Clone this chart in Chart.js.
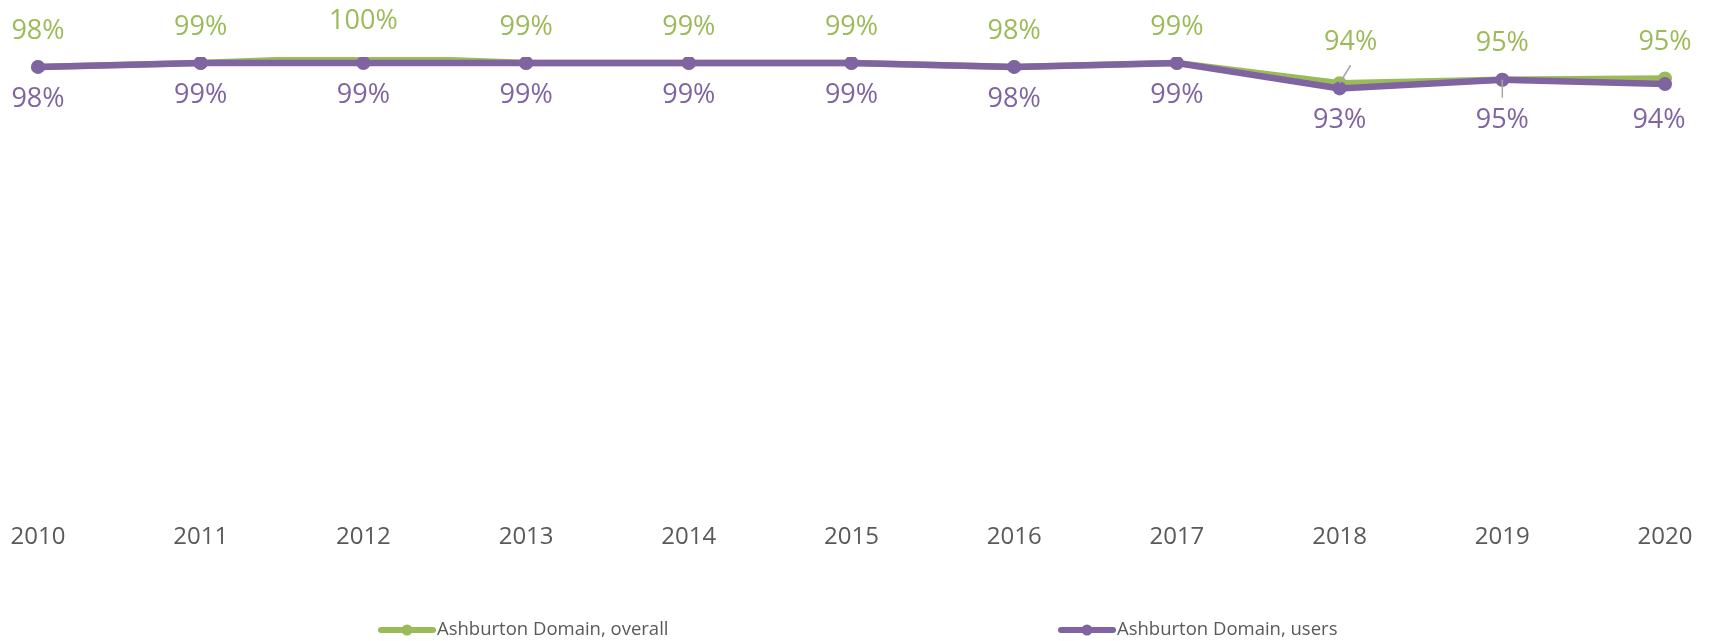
<!DOCTYPE html>
<html>
<head>
<meta charset="utf-8">
<script src="https://cdn.jsdelivr.net/npm/chart.js@4.4.1/dist/chart.umd.min.js"></script>
<style>
  html, body { margin: 0; padding: 0; background: #fff; }
  #wrap { position: relative; width: 1711px; height: 641px; }
</style>
</head>
<body>
<div id="wrap"><canvas id="chart"></canvas></div>
<script>
// data (percent)
const years = ['2010', '2011', '2012', '2013', '2014', '2015', '2016', '2017', '2018', '2019', '2020'];
const overall = [97.7, 98.6, 100, 98.6, 98.6, 98.6, 97.7, 98.6, 93.9, 94.7, 95.0];
const users = [97.7, 98.6, 98.6, 98.6, 98.6, 98.6, 97.7, 98.6, 92.7, 94.7, 93.7];
const seriesNames = ['Ashburton Domain, overall', 'Ashburton Domain, users'];

const GREEN = '#9BBB59';
const PURPLE = '#8064A2';
const FONT = '"Open Sans", "DejaVu Sans", sans-serif';

// value labels: green above, purple below, a few moved with a leader line
const valueLabels = {
  id: 'valueLabels',
  afterDatasetsDraw(chart, args, opts) {
    const ctx = chart.ctx;
    chart.data.datasets.forEach((ds, di) => {
      const meta = chart.getDatasetMeta(di);
      const dir = opts.side[di];
      meta.data.forEach((pt, i) => {
        const n = (opts.nudge[di] && opts.nudge[di][i]) || {};
        const lx = pt.x + (n.dx || 0);
        const ly = pt.y + dir * opts.gap[di] + (n.dy || 0);
        ctx.save();
        if (n.leader) {
          ctx.strokeStyle = '#A6A6A6';
          ctx.lineWidth = 1.5;
          ctx.beginPath();
          ctx.moveTo(pt.x, pt.y);
          ctx.lineTo(lx, ly - dir * 23);
          ctx.stroke();
        }
        ctx.fillStyle = ds.borderColor;
        ctx.font = '27px ' + FONT;
        ctx.textAlign = 'center';
        ctx.textBaseline = 'middle';
        ctx.fillText(Math.round(ds.data[i]) + '%', lx, ly);
        ctx.restore();
      });
    });
  }
};

// spread-out legend at the bottom, like the original
const bottomLegend = {
  id: 'bottomLegend',
  afterDraw(chart, args, opts) {
    const ctx = chart.ctx;
    chart.data.datasets.forEach((ds, i) => {
      const x = opts.starts[i];
      const y = opts.y;
      ctx.save();
      ctx.strokeStyle = ds.borderColor;
      ctx.lineWidth = 6;
      ctx.lineCap = 'round';
      ctx.beginPath();
      ctx.moveTo(x + 3, y);
      ctx.lineTo(x + 55, y);
      ctx.stroke();
      ctx.fillStyle = ds.borderColor;
      ctx.beginPath();
      ctx.arc(x + 29, y, 5.5, 0, Math.PI * 2);
      ctx.fill();
      ctx.fillStyle = '#595959';
      ctx.font = '18.5px ' + FONT;
      ctx.textBaseline = 'middle';
      ctx.fillText(ds.label, x + 59, y);
      ctx.restore();
    });
  }
};

new Chart(document.getElementById('chart'), {
  type: 'line',
  data: {
    labels: years,
    datasets: [{
      label: seriesNames[0],
      data: overall,
      borderColor: GREEN,
      backgroundColor: GREEN,
      borderWidth: 6.5,
      pointRadius: 7,
      pointBorderWidth: 0,
      pointBackgroundColor: GREEN,
      tension: 0,
      order: 2
    }, {
      label: seriesNames[1],
      data: users,
      borderColor: PURPLE,
      backgroundColor: PURPLE,
      borderWidth: 6.5,
      pointRadius: 7,
      pointBorderWidth: 0,
      pointBackgroundColor: PURPLE,
      tension: 0,
      order: 1
    }]
  },
  plugins: [valueLabels, bottomLegend],
  options: {
    responsive: true,
    maintainAspectRatio: false,
    animation: false,
    layout: {
      padding: { top: 57, left: 38, right: 46, bottom: 86 }
    },
    scales: {
      x: {
        offset: false,
        grid: { display: false, drawTicks: true, tickLength: 33 },
        border: { display: false },
        ticks: {
          color: '#595959',
          padding: 3,
          maxRotation: 0,
          font: { family: FONT, size: 24 }
        }
      },
      y: {
        display: false,
        min: 0,
        max: 100
      }
    },
    plugins: {
      legend: { display: false },
      tooltip: { enabled: false },
      valueLabels: {
        side: [-1, 1],
        gap: [36, 32],
        nudge: [
          { 8: { dx: 11, dy: -5, leader: true } },
          { 9: { dy: 9, leader: true }, 10: { dx: -6, dy: 4 } }
        ]
      },
      bottomLegend: {
        starts: [378, 1058],
        y: 630
      }
    }
  }
});
</script>
</body>
</html>
